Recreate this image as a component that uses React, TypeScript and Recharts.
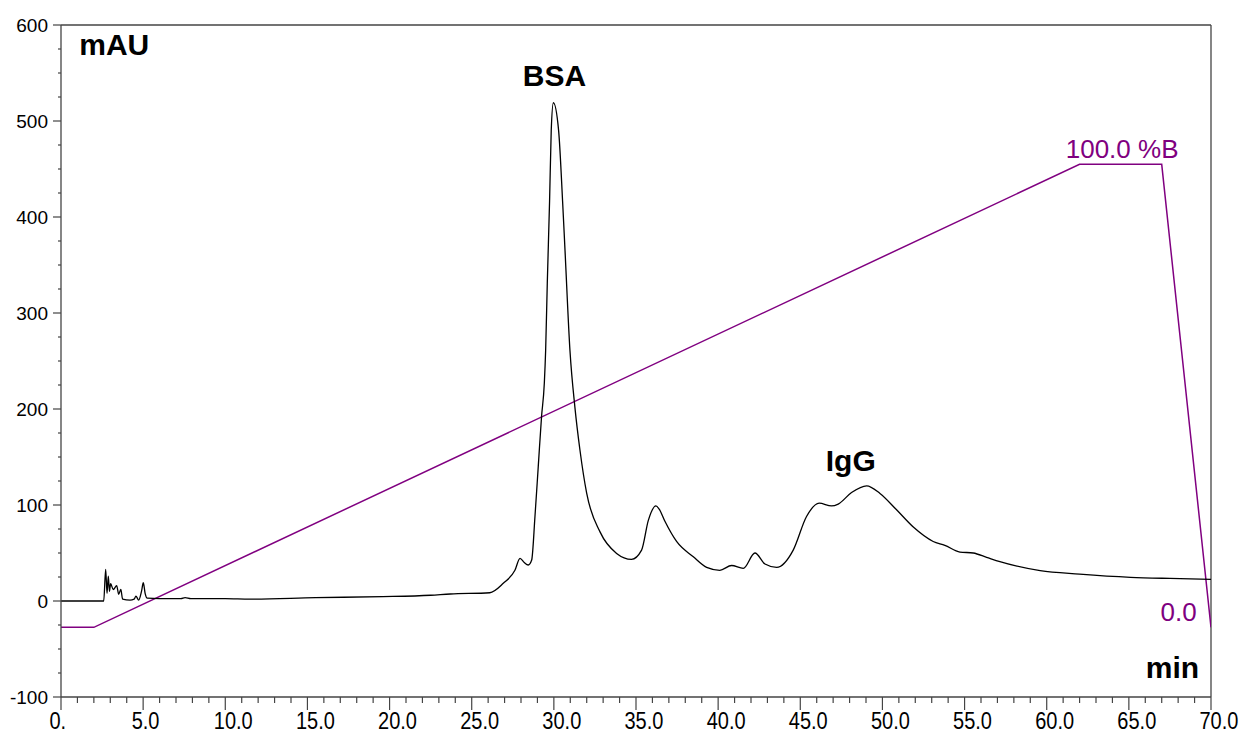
import { LineChart, Line, XAxis, YAxis, ReferenceLine, ReferenceDot } from 'recharts';

// UV trace (mAU)
const TRACE_MIN = [
  0, 2.6, 2.72, 2.8, 2.88, 2.95, 3.02, 3.18, 3.39, 3.51,
  3.64, 3.75, 4.2, 4.45, 4.56, 4.73, 4.9, 5.01, 5.12, 5.25,
  6.0, 7.3, 7.55, 7.9, 10, 11.5, 15.5, 19.6, 22.5, 23.7,
  26.1, 26.92, 27.63, 27.94, 28.2, 28.44, 28.65, 28.85, 29.05, 29.25,
  29.42, 29.5, 29.6, 29.74, 29.84, 29.97, 30.29, 30.53, 30.68,
  30.98, 31.28, 31.59, 32.0, 32.81, 33.82, 34.73, 35.34, 35.75, 36.21,
  36.4, 36.76, 37.47, 38.49, 39.3, 40.1, 40.82, 41.53, 42.24, 42.85,
  43.56, 44.57, 45.38, 46.15, 46.9, 47.31, 48.12, 49.04, 49.85, 50.86,
  51.88, 53.09, 53.8, 54.72, 55.53, 56.34, 57.15, 59.6, 62.0, 65.1,
  67.5, 70,
];
const TRACE_MAU = [
  0, 0, 33, 8, 26, 10, 18, 12, 16, 7,
  12, 2, 1, 2, 5, 1, 10, 19, 8, 3,
  2.5, 2.5, 3.5, 2.5, 2.5, 2, 3.5, 4.5, 6, 7.3,
  8.6, 18.4, 32, 44.4, 40, 37.5, 42.7, 88, 140, 192,
  227, 261, 331, 417, 490, 519, 490, 417, 365,
  261, 202, 157, 112, 72, 49.6, 43.4, 53, 84, 99,
  96, 83, 62, 46, 35, 32, 37, 34, 50, 38.5,
  35, 53, 88, 102, 99, 101, 113, 120, 112, 95,
  77, 62, 58, 51, 50, 45.5, 41, 31.6, 28, 24.7,
  23.5, 22.6,
];

// gradient program (%B)
const GRADIENT_MIN = [0, 2, 62, 67, 70];
const GRADIENT_PCT = [0, 0, 100, 100, 0];

const X_TICKS = Array.from({ length: 71 }, (_, i) => i); // every 1 min, labels every 5
const Y_TICKS = Array.from({ length: 29 }, (_, i) => -100 + i * 25); // every 25, labels every 100

const trace = TRACE_MIN.map((t, i) => ({ t, v: TRACE_MAU[i] }));
const gradient = GRADIENT_MIN.map((t, i) => ({ t, v: GRADIENT_PCT[i] }));

const FONT = '"Liberation Sans", Arial, sans-serif';
const AXIS = '#444';
const PURPLE = '#800080';

const XTick = (props: any) => {
  const { x, y, payload } = props;
  const val = payload.value;
  const major = val % 5 === 0;
  const label = val === 0 ? '0.' : val.toFixed(1);
  return (
    <g>
      <line x1={x} x2={x} y1={y} y2={y + (major ? 13 : 6)} stroke={AXIS} strokeWidth={1.2} />
      {major && (
        <text transform={`translate(${x - 11.5},${y + 32}) scale(1,1.15)`} fontSize={20} fontFamily={FONT} fill="#000">
          {label}
        </text>
      )}
    </g>
  );
};

const YTick = (props: any) => {
  const { x, y, payload } = props;
  const val = payload.value;
  const major = val % 100 === 0;
  return (
    <g>
      <line x1={x - (major ? 8 : 3)} x2={x} y1={y} y2={y} stroke={AXIS} strokeWidth={1.2} />
      {major && (
        <text x={x - 13} y={y + 6.7} textAnchor="end" fontSize={19} fontFamily={FONT} fill="#000">
          {val}
        </text>
      )}
    </g>
  );
};

const bold = { fill: '#000', fontSize: 30, fontWeight: 'bold', fontFamily: FONT };
const purpleText = { fill: PURPLE, fontSize: 26, fontFamily: FONT };

export default function App() {
  return (
    <div style={{ position: 'absolute', left: 0, top: 0, width: 1244, height: 734, background: '#fff' }}>
      <LineChart width={1244} height={734} margin={{ top: 25, right: 33, bottom: 0, left: 0 }}>
        <XAxis
          xAxisId="t"
          type="number"
          dataKey="t"
          domain={[0, 70]}
          ticks={X_TICKS}
          interval={0}
          allowDataOverflow
          height={37}
          tickSize={0}
          tickMargin={0}
          tickLine={false}
          axisLine={{ stroke: AXIS, strokeWidth: 1.3 }}
          tick={<XTick />}
        />
        <YAxis
          yAxisId="mau"
          type="number"
          domain={[-100, 600]}
          ticks={Y_TICKS}
          interval={0}
          allowDataOverflow
          width={61}
          tickSize={0}
          tickMargin={0}
          tickLine={false}
          axisLine={{ stroke: AXIS, strokeWidth: 1.3 }}
          tick={<YTick />}
        />
        <YAxis yAxisId="pct" type="number" domain={[-15.05, 130.09]} allowDataOverflow hide />

        <ReferenceLine xAxisId="t" yAxisId="mau" y={600} stroke={AXIS} strokeWidth={1.3} />
        <ReferenceLine xAxisId="t" yAxisId="mau" x={70} stroke={AXIS} strokeWidth={1.3} />

        <Line
          xAxisId="t"
          yAxisId="pct"
          data={gradient}
          dataKey="v"
          type="linear"
          stroke={PURPLE}
          strokeWidth={1.5}
          dot={false}
          isAnimationActive={false}
        />
        <Line
          xAxisId="t"
          yAxisId="mau"
          data={trace}
          dataKey="v"
          type="monotone"
          stroke="#000"
          strokeWidth={1.3}
          dot={false}
          isAnimationActive={false}
        />

        <ReferenceDot xAxisId="t" yAxisId="mau" x={3.24} y={580} r={0} label={{ value: 'mAU', position: 'center', ...bold }} />
        <ReferenceDot xAxisId="t" yAxisId="mau" x={30.04} y={547.6} r={0} label={{ value: 'BSA', position: 'center', ...bold }} />
        <ReferenceDot xAxisId="t" yAxisId="mau" x={48.07} y={146.9} r={0} label={{ value: 'IgG', position: 'center', ...bold }} />
        <ReferenceDot xAxisId="t" yAxisId="mau" x={67.65} y={-69.5} r={0} label={{ value: 'min', position: 'center', ...bold }} />
        <ReferenceDot xAxisId="t" yAxisId="mau" x={64.59} y={471.5} r={0} label={{ value: '100.0 %B', position: 'center', ...purpleText }} />
        <ReferenceDot xAxisId="t" yAxisId="mau" x={68.03} y={-11.1} r={0} label={{ value: '0.0', position: 'center', ...purpleText }} />
      </LineChart>
    </div>
  );
}
